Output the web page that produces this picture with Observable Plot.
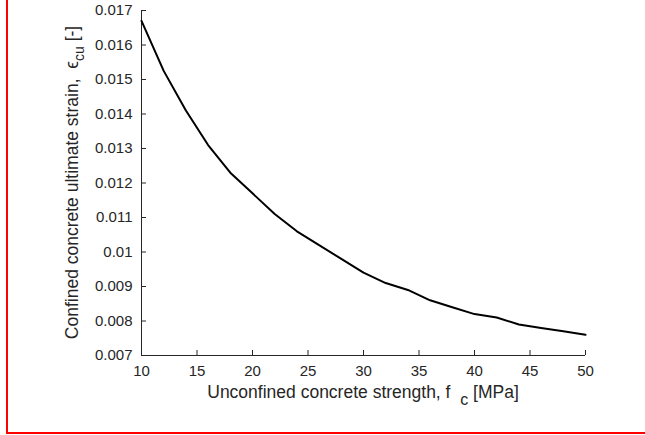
<!DOCTYPE html>
<html><head><meta charset="utf-8">
<script src="https://cdn.jsdelivr.net/npm/d3@7"></script>
<script src="https://cdn.jsdelivr.net/npm/@observablehq/plot@0.6"></script>
<style>
body{margin:0;background:#fff;}
#wrap{position:relative;width:645px;height:435px;overflow:hidden;}
#frame{position:absolute;left:6px;top:-4px;width:660px;height:438px;border-left:2px solid #f00;border-bottom:2px solid #f00;box-sizing:border-box;pointer-events:none;}
</style></head><body><div id="wrap"><div id="frame"></div></div>
<script>
// Data
const fc = [10,12,14,16,18,20,22,24,26,28,30,32,34,36,38,40,42,44,46,48,50];
const ecu = [0.0167,0.01525,0.0141,0.0131,0.0123,0.0117,0.0111,0.0106,0.0102,0.0098,0.0094,0.0091,0.0089,0.0086,0.0084,0.0082,0.0081,0.0079,0.0078,0.0077,0.0076];
const xTicks = [10,15,20,25,30,35,40,45,50];
const yTicks = [0.007,0.008,0.009,0.01,0.011,0.012,0.013,0.014,0.015,0.016,0.017];
const xDomain = [10,50];
const yDomain = [0.007,0.017];
const xLabel = ["Unconfined concrete strength, f", "c", "[MPa]"];
const yLabel = ["Confined concrete ultimate strain,", "\u03f5", "cu", "[-]"];

const rows = fc.map((x,i)=>({x, y: ecu[i]}));
const axisColor = "#262626";

const chart = Plot.plot({
  width: 645, height: 435,
  marginLeft: 141, marginRight: 60, marginTop: 10, marginBottom: 80,
  style: {fontFamily: "'Liberation Sans', Arial, Helvetica, sans-serif", fontSize: "15px", color: axisColor, background: "transparent"},
  x: {domain: xDomain},
  y: {domain: yDomain},
  marks: [
    Plot.axisX(xTicks, {tickSize: 0, tickPadding: 10, label: null, fontSize: 15, fill: axisColor}),
    Plot.axisY(yTicks, {tickSize: 0, tickPadding: 9, label: null, fontSize: 15, fill: axisColor,
      tickFormat: d => String(+d.toFixed(3))}),
    Plot.tickX(xTicks, {x: d => d, insetTop: 340, stroke: axisColor, strokeWidth: 1}),
    Plot.tickY(yTicks, {y: d => d, insetRight: 439, stroke: axisColor, strokeWidth: 1}),
    Plot.ruleX([xDomain[0]], {stroke: axisColor, strokeWidth: 1}),
    Plot.ruleY([yDomain[0]], {stroke: axisColor, strokeWidth: 1}),
    Plot.line(rows, {x: "x", y: "y", stroke: "#000", strokeWidth: 2})
  ]
});
document.getElementById("wrap").prepend(chart);

const svg = d3.select(chart);
const xr = chart.scale("x").range, yr = chart.scale("y").range;
const cx = (xr[0]+xr[1])/2, cy = (yr[0]+yr[1])/2;

const xt = svg.append("text")
  .attr("x", cx).attr("y", 398).attr("text-anchor", "middle")
  .attr("fill", axisColor).attr("font-size", 17.5).style("white-space", "pre");
xt.append("tspan").text(xLabel[0] + "  ");
xt.append("tspan").attr("dy", 7).attr("font-size", 16).text(xLabel[1]);
xt.append("tspan").attr("dy", -7).text(" " + xLabel[2]);

const yt = svg.append("text")
  .attr("transform", `translate(78,${cy}) rotate(-90)`).attr("text-anchor", "middle")
  .attr("fill", axisColor).attr("font-size", 17.5).style("white-space", "pre");
yt.append("tspan").text(yLabel[0] + "  " + yLabel[1]);
yt.append("tspan").attr("dy", 6).attr("font-size", 14).text(yLabel[2]);
yt.append("tspan").attr("dy", -6).text(" " + yLabel[3]);
</script></body></html>
